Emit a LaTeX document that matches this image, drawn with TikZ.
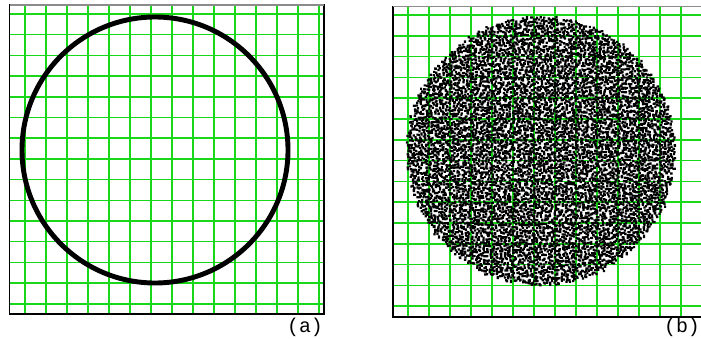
\documentclass[tikz,border=0pt]{standalone}
\usepackage{fontspec}
\newfontfamily\panelfont{Liberation Mono}
\usetikzlibrary{positioning}

\definecolor{gridgreen}{RGB}{25,215,25}

\begin{document}
\begin{tikzpicture}[
x=0.03cm,
y=-0.03cm,
gridline/.style={
draw=gridgreen,
line width=1.3pt
},
frame/.style={
draw=black,
line width=1.2pt
},
topedge/.style={
draw=black!45,
line width=1.2pt
},
ring/.style={
draw=black,
line width=4.2pt
},
dot/.style={
fill=black
},
panellabel/.style={
font=\panelfont\fontsize{17}{17}\selectfont,
inner sep=0pt
}
]

\useasboundingbox (0,0) rectangle (701,339);
\clip (0,0) rectangle (701,339);


% (a) grid
\foreach \k in {0,...,14} {
\draw[gridline] ({25+21*\k},5) -- ({25+21*\k},314);
\draw[gridline] (9.5,{14+20.7*\k}) -- (324,{14+20.7*\k});
}

% (a) frame
\draw[frame] (9.5,5) rectangle (324,314);
\draw[topedge] (9.5,5) -- (324,5);

% (a) circle
\draw[ring] (155,150) circle (133);

\node[panellabel] (labela) at (305,327) {(a)};


% (b) grid
\foreach \k in {0,...,14} {
\draw[gridline] ({408+21*\k},7) -- ({408+21*\k},317);
\draw[gridline] (393,{15+20.8*\k}) -- (708,{15+20.8*\k});
}

% (b) points, two per cell, row by row
\pgfmathsetseed{7}
\begin{scope}[shift={(540,150)}]
\foreach \r in {-39,...,39} {
\pgfmathtruncatemacro\w{sqrt(39.4*39.4-\r*\r)}
\fill[dot] \foreach \c in {-\w,...,\w} {
({3.4*\c+3.4*rnd-1.7},{3.4*\r+3.4*rnd-1.7}) rectangle ++(2.2,2.2)
({3.4*\c+3.4*rnd-1.7},{3.4*\r+3.4*rnd-1.7}) rectangle ++(2.2,2.2)
};
}
\end{scope}

% (b) frame
\draw[frame] (393,6.5) rectangle (708,317);
\draw[topedge] (393,6.5) -- (708,6.5);

\node[panellabel] (labelb) at (682,327) {(b)};

\end{tikzpicture}
\end{document}
